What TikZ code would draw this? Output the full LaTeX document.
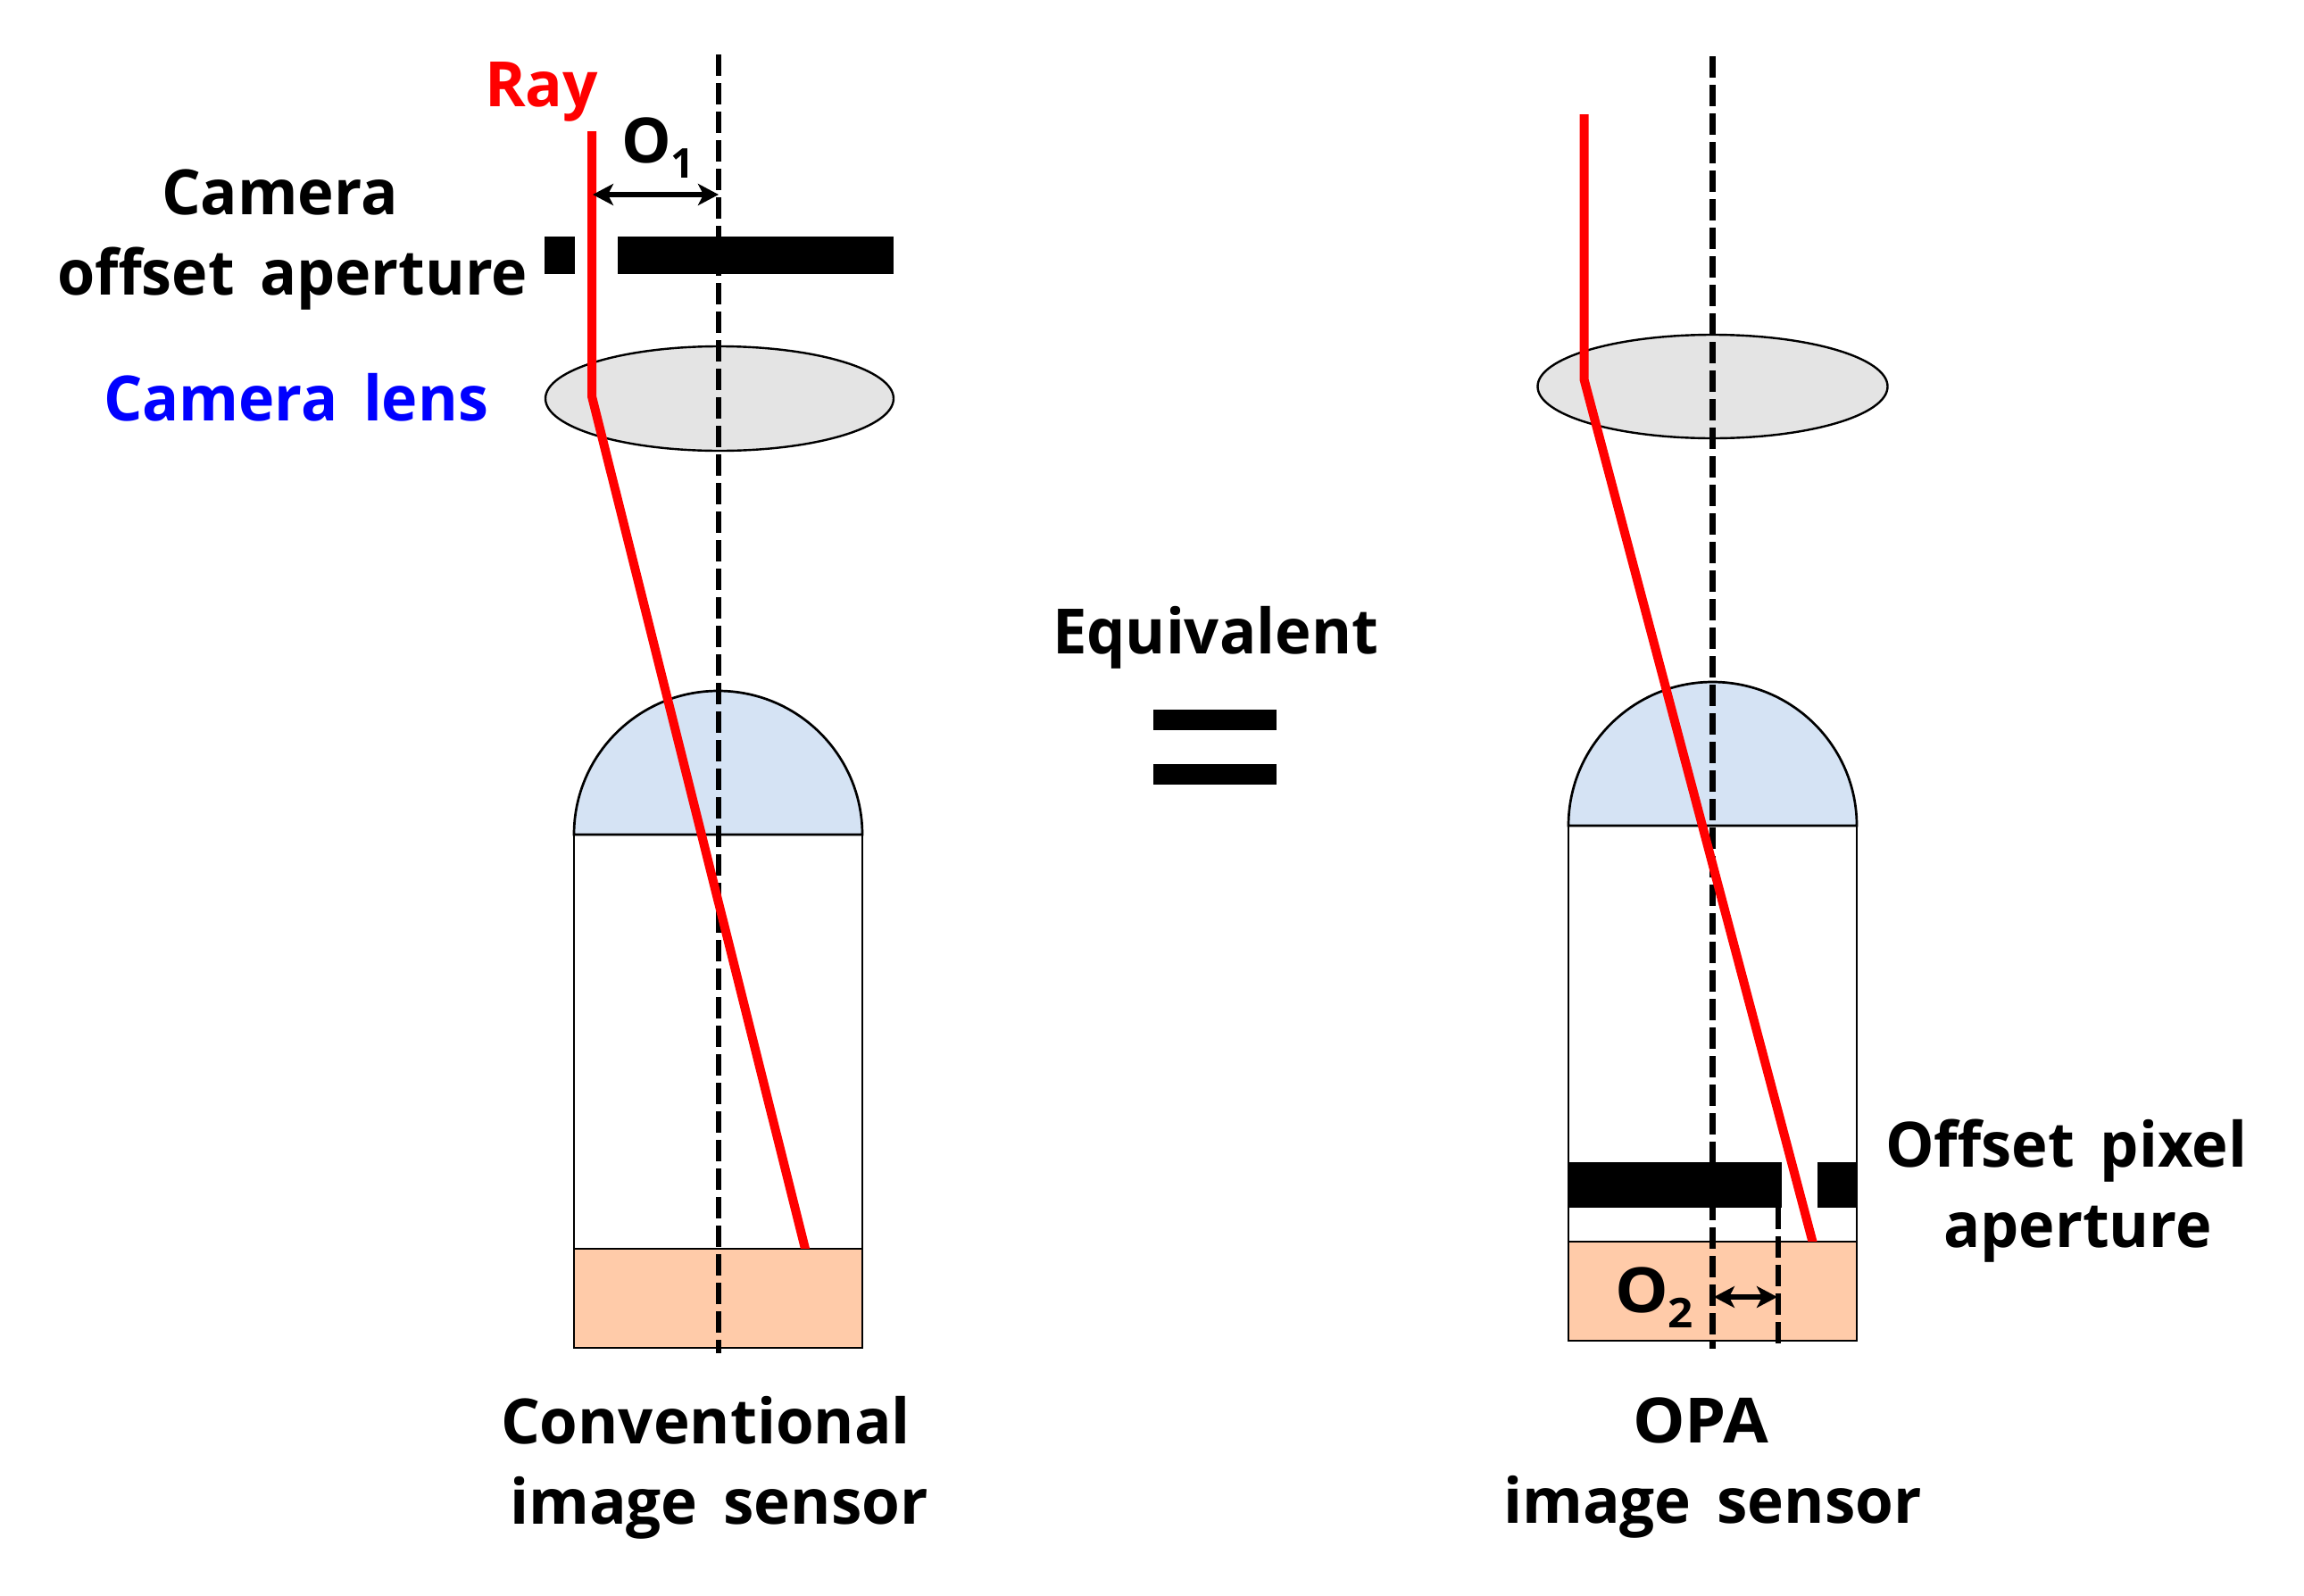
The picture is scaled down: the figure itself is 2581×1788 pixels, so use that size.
\documentclass[tikz,border=0pt]{standalone}
\usepackage{fontspec}
\usepackage{graphicx}
\usetikzlibrary{arrows.meta}
\setmainfont[WordSpace=1.6]{Open Sans}
\definecolor{lensgray}{HTML}{E4E4E4}
\definecolor{mlblue}{HTML}{D5E3F4}
\definecolor{pdorange}{HTML}{FFCBA9}
\newcommand{\fitw}[2]{\resizebox{#1pt}{\height}{#2}}
\newcommand{\subdigit}[1]{\raisebox{-17pt}{\fontsize{46}{46}\selectfont #1}}
\tikzset{
  x=1pt,y=1pt,
  lbl/.style={anchor=base west,inner sep=0pt,outer sep=0pt,font=\fontsize{70}{84}\selectfont\bfseries},
  outline/.style={draw=black,line width=2.7pt},
  axis/.style={draw=black,line width=6.5pt,dash pattern=on 24pt off 8pt},
  ray/.style={draw=red,line width=10pt,line join=round},
  dim/.style={draw=black,line width=5.5pt,{Stealth[length=23pt,width=24pt,inset=6pt]}-{Stealth[length=23pt,width=24pt,inset=6pt]}},
  block/.style={fill=black,draw=none},
}
\begin{document}
\begin{tikzpicture}[yscale=-1]
\path[use as bounding box,fill=white] (0,0) rectangle (2581,1788);

% ---------- left assembly ----------
\fill[pdorange] (643,1399) rectangle (966,1510);
\draw[outline] (643,935) rectangle (966,1399);
\draw[outline] (643,1399) rectangle (966,1510);
\draw[outline,fill=mlblue] (643,935) arc[start angle=180,end angle=360,x radius=161.5,y radius=161] -- cycle;
\draw[outline,line width=2.4pt,fill=lensgray] (806,446.5) ellipse[x radius=195,y radius=58.5];
\coordinate (axisLtop) at (805,61);
\coordinate (axisLbot) at (805,1516);
\draw[axis] (axisLtop) -- (axisLbot);
\fill[block] (610,265) rectangle (644,307);
\fill[block] (692,265) rectangle (1001,307);
\coordinate (rayLa) at (663,147);
\coordinate (rayLb) at (663,444);
\coordinate (rayLc) at (904,1407);
\begin{scope}
\clip (500,100) rectangle (1100,1398);
\draw[ray] (rayLa) -- (rayLb) -- (rayLc);
\end{scope}
\coordinate (o1a) at (664,218);
\coordinate (o1b) at (805,218);
\draw[dim] (o1a) -- (o1b);

% ---------- right assembly ----------
\fill[pdorange] (1757,1391) rectangle (2080,1502);
\draw[outline] (1757,925) rectangle (2080,1391);
\draw[outline] (1757,1391) rectangle (2080,1502);
\draw[outline,fill=mlblue] (1757,925) arc[start angle=180,end angle=360,x radius=161.5,y radius=161] -- cycle;
\draw[outline,line width=2.4pt,fill=lensgray] (1918.5,433) ellipse[x radius=196,y radius=58];
\coordinate (axisRtop) at (1918.5,63);
\coordinate (axisRbot) at (1918.5,1511);
\draw[axis] (axisRtop) -- (axisRbot);
\fill[block] (1757,1302) rectangle (1996,1353);
\fill[block] (2036,1302) rectangle (2080,1353);
\coordinate (axisQtop) at (1992,1353);
\coordinate (axisQbot) at (1992,1511);
\draw[axis,line width=5.5pt] (axisQtop) -- (axisQbot);
\coordinate (rayRa) at (1774.5,128);
\coordinate (rayRb) at (1774.5,425);
\coordinate (rayRc) at (2032.6,1399);
\begin{scope}
\clip (1700,100) rectangle (2100,1390);
\draw[ray] (rayRa) -- (rayRb) -- (rayRc);
\end{scope}
\coordinate (o2a) at (1920,1453);
\coordinate (o2b) at (1991,1453);
\draw[dim] (o2a) -- (o2b);

% ---------- equals sign ----------
\fill[block] (1292,795) rectangle (1430,818);
\fill[block] (1292,856) rectangle (1430,879);

% ---------- labels ----------
\node[lbl,text=red] (ray) at (543,119) {\fitw{127}{Ray}};
\node[lbl] (o1) at (696,182) {\fitw{82}{O\subdigit{1}}};
\node[lbl] (cam) at (181,240) {\fitw{265}{Camera}};
\node[lbl] (oap) at (64,330) {\fitw{527}{offset aperture}};
\node[lbl,text={rgb,255:red,0;green,0;blue,255}] (lens) at (116,471) {\fitw{431}{Camera lens}};
\node[lbl] (eq) at (1179,732) {\fitw{365}{Equivalent}};
\node[lbl] (conv) at (561,1617) {\fitw{459}{Conventional}};
\node[lbl] (imgL) at (571,1707) {\fitw{469}{image sensor}};
\node[lbl] (opa) at (1829,1616) {\fitw{152}{OPA}};
\node[lbl] (imgR) at (1684,1706) {\fitw{469}{image sensor}};
\node[lbl] (off) at (2112,1307) {\fitw{405}{Offset pixel}};
\node[lbl] (ap) at (2177,1397) {\fitw{301}{aperture}};
\node[lbl] (o2) at (1809,1470) {\fitw{88}{O\subdigit{2}}};
\end{tikzpicture}
\end{document}
